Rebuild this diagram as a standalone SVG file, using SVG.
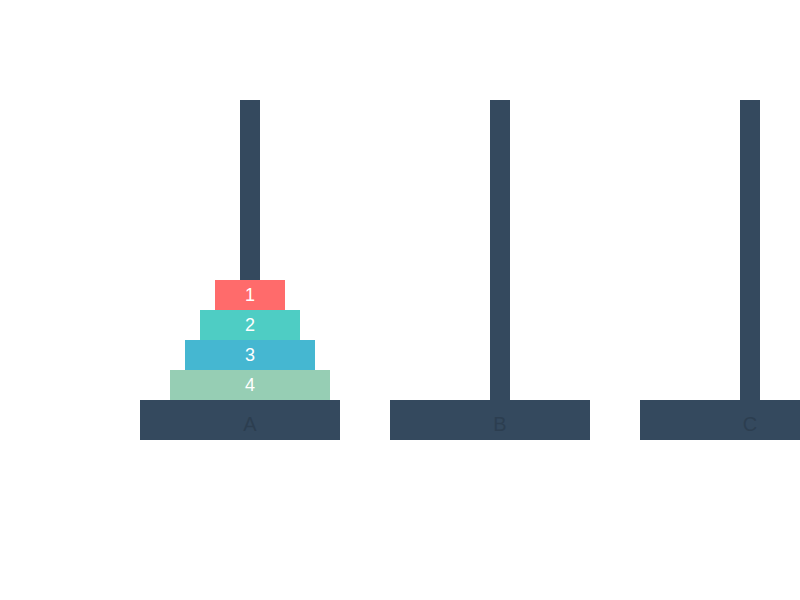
<svg xmlns="http://www.w3.org/2000/svg" width="800" height="600" viewBox="0 0 800 600">
<style>
.peg{fill:#34495E}
.base{fill:#34495E}
.lbl{font-family:"Liberation Sans",Arial,sans-serif;font-size:20px;fill:#2C3E50;text-anchor:middle}
.dt{font-family:"Liberation Sans",Arial,sans-serif;font-size:18px;fill:#FFFFFF;text-anchor:middle}
</style>
<rect width="800" height="600" fill="#FFFFFF"/>
<g id="peg-A">
<rect class="peg" x="240" y="100" width="20" height="300"/>
<rect class="base" x="140" y="400" width="200" height="40"/>
<text class="lbl" x="250" y="430.5">A</text>
</g>
<g id="peg-B">
<rect class="peg" x="490" y="100" width="20" height="300"/>
<rect class="base" x="390" y="400" width="200" height="40"/>
<text class="lbl" x="500" y="430.5">B</text>
</g>
<g id="peg-C">
<rect class="peg" x="740" y="100" width="20" height="300"/>
<rect class="base" x="640" y="400" width="200" height="40"/>
<text class="lbl" x="750" y="430.5">C</text>
</g>
<g id="disk-4">
<rect x="170" y="370" width="160" height="30" fill="#96CEB4"/>
<text class="dt" x="250" y="390.5">4</text>
</g>
<g id="disk-3">
<rect x="185" y="340" width="130" height="30" fill="#45B7D1"/>
<text class="dt" x="250" y="360.5">3</text>
</g>
<g id="disk-2">
<rect x="200" y="310" width="100" height="30" fill="#4ECDC4"/>
<text class="dt" x="250" y="330.5">2</text>
</g>
<g id="disk-1">
<rect x="215" y="280" width="70" height="30" fill="#FF6B6B"/>
<text class="dt" x="250" y="300.5">1</text>
</g>
<g id="connectors"></g>
</svg>
